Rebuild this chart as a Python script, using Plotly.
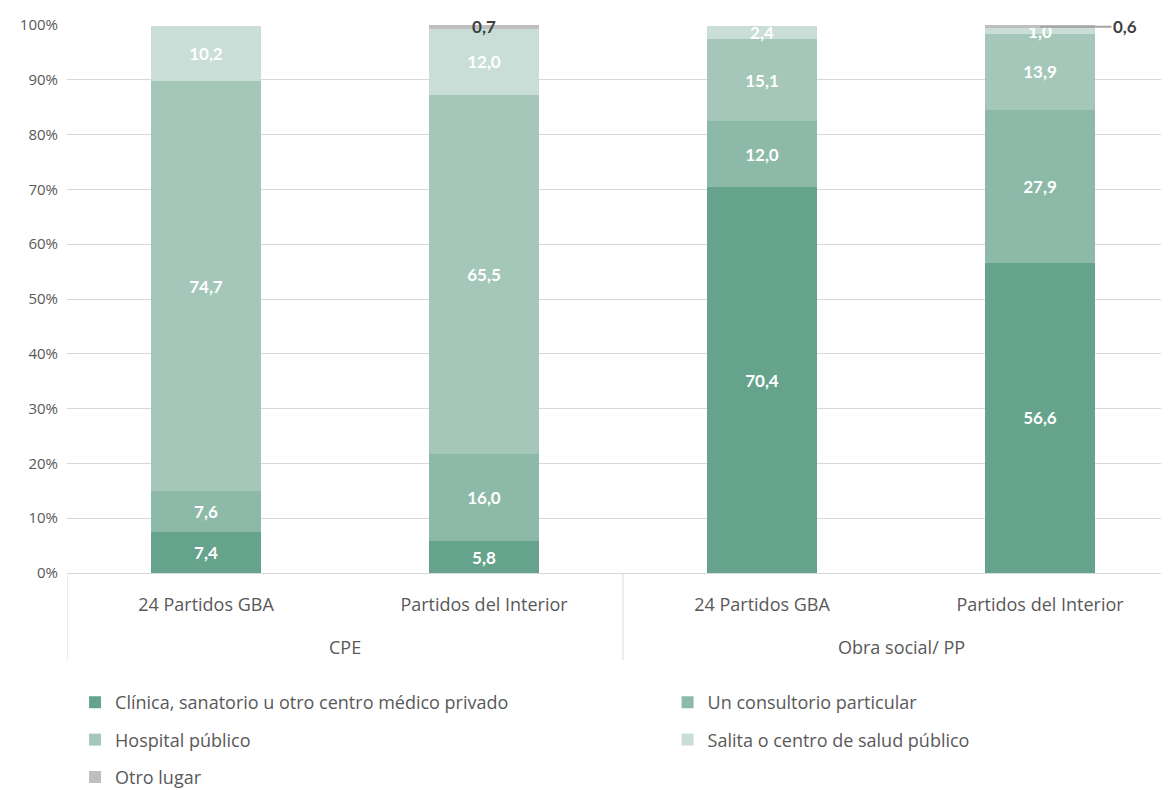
import plotly.graph_objects as go

groups = ["CPE", "CPE", "Obra social/ PP", "Obra social/ PP"]
places = ["24 Partidos GBA", "Partidos del Interior", "24 Partidos GBA", "Partidos del Interior"]

series_names = [
    "Clínica, sanatorio u otro centro médico privado",
    "Un consultorio particular",
    "Hospital público",
    "Salita o centro de salud público",
    "Otro lugar",
]
clinica = [7.4, 5.8, 70.4, 56.6]
consultorio = [7.6, 16.0, 12.0, 27.9]
hospital = [74.7, 65.5, 15.1, 13.9]
salita = [10.2, 12.0, 2.4, 1.0]
otro = [0.0, 0.7, 0.0, 0.6]

series_values = [clinica, consultorio, hospital, salita, otro]
colors = ["#66a38d", "#8db9a8", "#a4c7ba", "#c9ded6", "#bfbfbf"]
legend_ids = ["legend", "legend2", "legend", "legend2", "legend"]

FONT = "Open Sans"
LABEL_FONT = "Lato"
GRAY = "#595959"
LINE = "#d9d9d9"

def fmt(v):
    return f"{v:.1f}".replace(".", ",")

xpos = list(range(len(places)))

fig = go.Figure()
for i, (name, vals, col, lg) in enumerate(zip(series_names, series_values, colors, legend_ids)):
    if name == "Otro lugar":
        texts = ["" if v == 0 or j == 3 else fmt(v) for j, v in enumerate(vals)]
        tcol = "#404040"
    else:
        texts = [fmt(v) if v > 0 else "" for v in vals]
        tcol = "white"
    fig.add_trace(go.Bar(
        x=xpos, y=vals, name=name, legend=lg, legendgroup=name,
        marker=dict(color=col, line=dict(width=0)),
        text=texts, textposition="inside", insidetextanchor="middle",
        textfont=dict(family=LABEL_FONT, size=17, color=tcol, weight="bold"),
        textangle=0, cliponaxis=False, hoverinfo="skip",
    ))

# 0,6 label with leader line
fig.add_annotation(
    x=3, y=100 - otro[3] / 2, xref="x", yref="y",
    text="<b>" + fmt(otro[3]) + "</b>", showarrow=True, arrowhead=0,
    arrowcolor="#a6a6a6", arrowwidth=2, ax=85, ay=0,
    font=dict(family=LABEL_FONT, size=17, color="#404040"),
)

# group labels and dividers
uniq = []
for g in groups:
    if g not in uniq:
        uniq.append(g)
for g in uniq:
    idx = [j for j, gg in enumerate(groups) if gg == g]
    fig.add_annotation(
        x=sum(idx) / len(idx), y=-0.135, xref="x", yref="paper",
        text=g, showarrow=False, yanchor="middle",
        font=dict(family=FONT, size=18, color=GRAY),
    )
    fig.add_shape(type="line", xref="x", yref="paper",
                  x0=idx[0] - 0.5, x1=idx[0] - 0.5, y0=0, y1=-0.159,
                  line=dict(color=LINE, width=1))

fig.update_layout(
    barmode="stack",
    bargap=0.604,
    width=1161, height=782,
    margin=dict(l=59, r=0, t=17, b=217, autoexpand=False),
    plot_bgcolor="white", paper_bgcolor="white",
    font=dict(family=FONT, color=GRAY),
    uniformtext=dict(minsize=17, mode="show"),
    showlegend=True,
    legend=dict(
        orientation="v", x=0.0073, y=-0.2026, xanchor="left", yanchor="top",
        font=dict(family=FONT, size=18, color=GRAY),
        tracegroupgap=11, itemwidth=30, traceorder="grouped",
        bgcolor="rgba(0,0,0,0)",
    ),
    legend2=dict(
        orientation="v", x=0.545, y=-0.2026, xanchor="left", yanchor="top",
        font=dict(family=FONT, size=18, color=GRAY),
        tracegroupgap=11, itemwidth=30, traceorder="grouped",
        bgcolor="rgba(0,0,0,0)",
    ),
    xaxis=dict(
        range=[-0.5, 3.464], tickvals=xpos, ticktext=places,
        tickfont=dict(family=FONT, size=18, color=GRAY),
        showline=False, ticks="", ticklabelstandoff=19,
        showgrid=False, zeroline=False, automargin=False,
    ),
    yaxis=dict(
        range=[0, 100], dtick=10, ticksuffix="%",
        showgrid=True, gridcolor=LINE, gridwidth=1,
        zeroline=True, zerolinecolor=LINE, zerolinewidth=1,
        tickfont=dict(family=FONT, size=15, color=GRAY),
        ticks="", ticklabelstandoff=8, automargin=False,
    ),
)

fig.write_html("out.html")
